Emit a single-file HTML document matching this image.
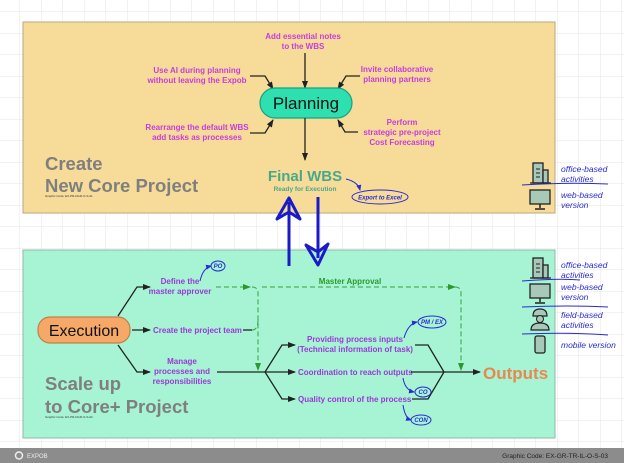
<!DOCTYPE html>
<html><head><meta charset="utf-8"><style>
html,body{margin:0;padding:0;width:624px;height:463px;overflow:hidden;background:#fff}
svg{display:block}
text{font-family:"Liberation Sans",sans-serif}
.m{fill:#c83cdc;font-size:8px;font-weight:bold;text-anchor:middle}
.g{fill:#9a38d8;font-size:8px;font-weight:bold}
.h{fill:#2a2ad0;font-size:8.5px;font-style:italic;font-family:"Liberation Sans",sans-serif}
.o{fill:#2a2ad0;font-size:6px;font-style:italic;font-weight:bold;text-anchor:middle}
.big{fill:#7f7f7f;font-size:18.5px;font-weight:bold}
.ln{stroke:#222;stroke-width:1.3;fill:none}
.bl{stroke:#2a2ad0;stroke-width:1;fill:none}
</style></head><body>
<svg width="624" height="463" viewBox="0 0 624 463" xmlns="http://www.w3.org/2000/svg">
<defs>
<pattern id="grid" width="21.5" height="21.5" patternUnits="userSpaceOnUse" x="20" y="12">
<path d="M21.5 0V21.5H0" fill="none" stroke="#e4e4e4" stroke-width="1"/></pattern>
<marker id="a" markerWidth="8" markerHeight="6" refX="7" refY="3" orient="auto" markerUnits="userSpaceOnUse"><path d="M0,0L8,3L0,6z" fill="#222"/></marker>
<marker id="ag" markerWidth="8" markerHeight="6" refX="7" refY="3" orient="auto" markerUnits="userSpaceOnUse"><path d="M0,0L8,3L0,6z" fill="#2a9a2a"/></marker>
<marker id="ab" markerWidth="6" markerHeight="5" refX="5" refY="2.5" orient="auto" markerUnits="userSpaceOnUse"><path d="M0,0L6,2.5L0,5z" fill="#2a2ad0"/></marker>
</defs>
<rect width="624" height="463" fill="url(#grid)"/>
<!-- yellow panel -->
<rect x="23" y="22" width="532" height="191" fill="#f6dc98" stroke="#b9a880" stroke-width="1"/>
<text class="m" x="303" y="39">Add essential notes</text>
<text class="m" x="303" y="49">to the WBS</text>
<line class="ln" x1="305" y1="53" x2="305" y2="88" marker-end="url(#a)"/>
<text class="m" x="197" y="73">Use AI during planning</text>
<text class="m" x="197" y="83">without leaving the Expob</text>
<path class="ln" d="M250,76H265L273,89" marker-end="url(#a)"/>
<text class="m" x="397" y="72">Invite  collaborative</text>
<text class="m" x="397" y="82">planning partners</text>
<path class="ln" d="M360,76H346L338,89" marker-end="url(#a)"/>
<text class="m" x="197" y="130">Rearrange the default WBS</text>
<text class="m" x="197" y="140">add  tasks as processes</text>
<path class="ln" d="M250,133H265L273,120" marker-end="url(#a)"/>
<text class="m" x="402" y="125">Perform</text>
<text class="m" x="402" y="135">strategic pre-project</text>
<text class="m" x="402" y="145">Cost Forecasting</text>
<path class="ln" d="M358,132H345L338,120" marker-end="url(#a)"/>
<rect x="260" y="88" width="92" height="30" rx="15" fill="#2ee0b0" stroke="#1aa080" stroke-width="1.2"/>
<text x="306" y="109" font-size="17" text-anchor="middle" fill="#111">Planning</text>
<line class="ln" x1="305" y1="118" x2="305" y2="160" marker-end="url(#a)"/>
<text x="305" y="181" font-size="15" font-weight="bold" fill="#4aa888" text-anchor="middle">Final WBS</text>
<text x="305" y="191" font-size="6.5" font-weight="bold" fill="#4aa888" text-anchor="middle">Ready for Execution</text>
<path class="bl" d="M346,179Q358,182 360,190" marker-end="url(#ab)"/>
<ellipse cx="380" cy="197" rx="28" ry="7" fill="none" stroke="#2a2ad0"/>
<text class="o" x="380" y="199.5" font-size="6.5">Export to Excel</text>
<text class="big" x="45" y="170">Create</text>
<text class="big" x="45" y="192">New Core Project</text>
<text x="45" y="197" font-size="3" fill="#333">Graphic Code: EX-PR-DGR-O-S-01</text>
<!-- green panel -->
<rect x="23" y="250" width="532" height="188" fill="#a6f4d4" stroke="#90b8a8" stroke-width="1"/>
<!-- blue arrows -->
<g stroke="#1a1ac8" stroke-width="3" fill="none" stroke-linejoin="round">
<line x1="289" y1="266" x2="289" y2="202"/>
<path d="M277,219L289,198L300,219L289,212Z"/>
<line x1="318" y1="197" x2="318" y2="258"/>
<path d="M306,245L318,265L328,244L318,252Z"/>
</g>
<!-- execution -->
<rect x="38" y="317" width="92" height="26" rx="12" fill="#f5a868" stroke="#c0804a" stroke-width="1.2"/>
<text x="84" y="336" font-size="16" text-anchor="middle" fill="#111">Execution</text>
<path class="ln" d="M118,316L137,287H150" marker-end="url(#a)"/>
<path class="ln" d="M132,330H150" marker-end="url(#a)"/>
<path class="ln" d="M118,345L137,372H150" marker-end="url(#a)"/>
<text class="g" x="180" y="284" text-anchor="middle">Define the</text>
<text class="g" x="180" y="294" text-anchor="middle">master approver</text>
<text class="g" x="153" y="333">Create the project team</text>
<line class="ln" x1="243" y1="330" x2="252" y2="330"/>
<text class="g" x="182" y="364" text-anchor="middle">Manage</text>
<text class="g" x="182" y="374" text-anchor="middle">processes  and</text>
<text class="g" x="182" y="384" text-anchor="middle">responsibilities</text>
<!-- dashed -->
<g stroke="#3aa03a" stroke-width="1" fill="none" stroke-dasharray="5,3">
<path d="M216,287H250" marker-end="url(#ag)"/>
<path d="M252,287Q258,287 258,293V370" marker-end="url(#ag)"/>
<path d="M252,330Q258,330 258,320"/>
<path d="M262,287H455" marker-end="url(#ag)"/>
<path d="M455,287Q461,287 461,293V370" marker-end="url(#ag)"/>
</g>
<text x="350" y="284" font-size="8" font-weight="bold" fill="#2a9a2a" text-anchor="middle">Master Approval</text>
<!-- PO -->
<path class="bl" d="M200,281Q203,268 211,266" marker-end="url(#ab)"/>
<ellipse cx="218" cy="266" rx="7" ry="5" fill="none" stroke="#2a2ad0"/>
<text class="o" x="218" y="268">PO</text>
<!-- fork -->
<path class="ln" d="M217,372H265"/>
<path class="ln" d="M265,372L282,345H295" marker-end="url(#a)"/>
<path class="ln" d="M265,372H295" marker-end="url(#a)"/>
<path class="ln" d="M265,372L282,399H295" marker-end="url(#a)"/>
<text class="g" x="355" y="342" text-anchor="middle">Providing process inputs</text>
<text class="g" x="355" y="352" text-anchor="middle">(Technical information of  task)</text>
<text class="g" x="298" y="375">Coordination to reach  outputs</text>
<text class="g" x="298" y="402">Quality control of the process</text>
<path class="ln" d="M415,345H428L444,372"/>
<path class="ln" d="M411,372H444"/>
<path class="ln" d="M412,399H428L444,372"/>
<path class="ln" d="M444,372H480" marker-end="url(#a)"/>
<text x="483" y="379" font-size="17" font-weight="bold" fill="#e88850">Outputs</text>
<!-- handwritten ovals -->
<path class="bl" d="M404,338Q408,324 417,322" marker-end="url(#ab)"/>
<ellipse cx="432" cy="322" rx="14" ry="6" fill="none" stroke="#2a2ad0"/>
<text class="o" x="432" y="324">PM / EX</text>
<path class="bl" d="M403,378Q405,390 414,392" marker-end="url(#ab)"/>
<ellipse cx="423" cy="392" rx="8" ry="5" fill="none" stroke="#2a2ad0"/>
<text class="o" x="423" y="394">CO</text>
<path class="bl" d="M403,405Q405,418 411,420" marker-end="url(#ab)"/>
<ellipse cx="421" cy="420" rx="10" ry="5" fill="none" stroke="#2a2ad0"/>
<text class="o" x="421" y="422">CON</text>
<text class="big" x="45" y="390">Scale up</text>
<text class="big" x="45" y="413">to Core+ Project</text>
<text x="45" y="418" font-size="3" fill="#333">Graphic Code: EX-PR-DGR-O-S-02</text>
<!-- right side icons -->
<g id="bld"><rect x="533" y="163" width="10" height="20" fill="#a8c8b8" stroke="#222" stroke-width="1.3"/><rect x="543" y="170" width="5" height="13" fill="#a8c8b8" stroke="#222" stroke-width="1.3"/><line x1="536" y1="169" x2="540" y2="169" stroke="#222"/><line x1="536" y1="173" x2="540" y2="173" stroke="#222"/><line x1="536" y1="177" x2="540" y2="177" stroke="#222"/><line x1="530" y1="183" x2="551" y2="183" stroke="#222" stroke-width="1.3"/></g>
<g id="mon"><rect x="530" y="190" width="20" height="14" fill="#a8c8b8" stroke="#222" stroke-width="1.3"/><line x1="540" y1="204" x2="540" y2="208" stroke="#222" stroke-width="1.5"/><line x1="535" y1="209" x2="545" y2="209" stroke="#222" stroke-width="1.5"/></g>
<text class="h" x="561" y="172">office-based</text>
<text class="h" x="561" y="182">activities</text>
<path class="bl" d="M522,185Q570,182 608,184" stroke-width="1.2"/>
<text class="h" x="561" y="198">web-based</text>
<text class="h" x="561" y="208">version</text>
<use href="#bld" y="95"/>
<text class="h" x="561" y="268">office-based</text>
<text class="h" x="561" y="278">activities</text>
<path class="bl" d="M522,281Q560,278 580,280" stroke-width="1.2"/>
<use href="#mon" y="94"/>
<text class="h" x="561" y="290">web-based</text>
<text class="h" x="561" y="300">version</text>
<path class="bl" d="M522,307Q570,305 608,307" stroke-width="1.2"/>
<g><path d="M533,316Q533,309 540,309Q547,309 547,316Z" fill="#a8c8b8" stroke="#222" stroke-width="1.2"/><circle cx="540" cy="319" r="3.5" fill="#a8c8b8" stroke="#222"/><path d="M531,330Q531,323 540,323Q549,323 549,330Z" fill="#a8c8b8" stroke="#222" stroke-width="1.2"/></g>
<text class="h" x="561" y="318">field-based</text>
<text class="h" x="561" y="328">activities</text>
<path class="bl" d="M522,334Q570,332 608,335" stroke-width="1.2"/>
<rect x="535" y="336" width="10" height="17" rx="2" fill="#a8c8b8" stroke="#222" stroke-width="1.3"/>
<text class="h" x="561" y="348">mobile version</text>
<!-- footer -->
<rect x="0" y="448" width="624" height="15" fill="#8c8c8c"/>
<circle cx="19" cy="455.5" r="3.5" fill="none" stroke="#eee" stroke-width="1.5"/>
<text x="27" y="458" font-size="6" fill="#eee">EXPOB</text>
<text x="608" y="458" font-size="6.5" fill="#222" text-anchor="end">Graphic Code: EX-GR-TR-IL-O-S-03</text>
</svg>
</body></html>
